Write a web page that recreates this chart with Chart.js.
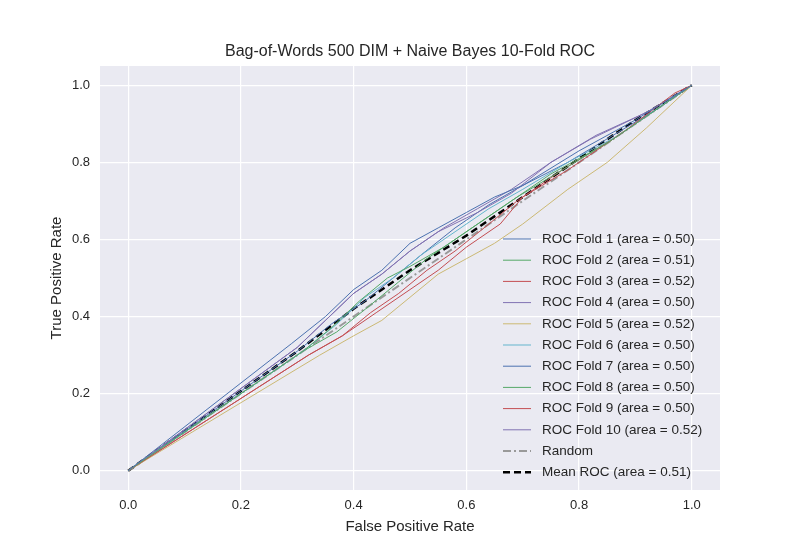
<!DOCTYPE html>
<html>
<head>
<meta charset="utf-8">
<script src="https://cdn.jsdelivr.net/npm/chart.js@4/dist/chart.umd.min.js"></script>
<style>
  body { margin: 0; background: #fff; }
  #wrap { width: 800px; height: 550px; }
</style>
</head>
<body>
<div id="wrap"><canvas id="roc"></canvas></div>
<script>
// Fold curves: [fpr, tpr] pairs
const fold1 = [[0,0],[0.29,0.33],[0.35,0.40],[0.40,0.47],[0.45,0.52],[0.50,0.59],[0.55,0.63],[0.60,0.67],[0.65,0.71],[0.70,0.74],[0.80,0.83],[0.90,0.91],[1,1]];
const fold2 = [[0,0],[0.31,0.31],[0.36,0.37],[0.41,0.44],[0.46,0.50],[0.50,0.53],[0.56,0.58],[0.62,0.64],[0.68,0.70],[0.75,0.77],[0.85,0.85],[0.93,0.93],[1,1]];
const fold3 = [[0,0],[0.32,0.30],[0.38,0.35],[0.44,0.41],[0.50,0.47],[0.55,0.52],[0.60,0.58],[0.66,0.64],[0.70,0.71],[0.78,0.78],[0.88,0.88],[0.97,0.98],[1,1]];
const fold4 = [[0,0],[0.30,0.32],[0.35,0.39],[0.40,0.46],[0.45,0.51],[0.50,0.57],[0.55,0.62],[0.62,0.67],[0.68,0.72],[0.75,0.80],[0.82,0.86],[0.92,0.93],[1,1]];
const fold5 = [[0,0],[0.34,0.30],[0.40,0.35],[0.45,0.39],[0.50,0.45],[0.55,0.51],[0.60,0.55],[0.65,0.59],[0.70,0.64],[0.78,0.73],[0.85,0.80],[0.92,0.89],[1,1]];
const fold6 = [[0,0],[0.31,0.31],[0.37,0.38],[0.42,0.45],[0.47,0.50],[0.52,0.56],[0.58,0.62],[0.64,0.68],[0.70,0.73],[0.78,0.80],[0.87,0.87],[0.95,0.95],[1,1]];
const fold7 = [[0,0],[0.30,0.31],[0.36,0.38],[0.42,0.44],[0.47,0.50],[0.52,0.56],[0.58,0.63],[0.64,0.69],[0.70,0.74],[0.78,0.80],[0.86,0.87],[0.94,0.94],[1,1]];
const fold8 = [[0,0],[0.31,0.31],[0.37,0.36],[0.43,0.43],[0.48,0.49],[0.53,0.55],[0.58,0.60],[0.64,0.66],[0.69,0.71],[0.77,0.78],[0.86,0.86],[0.94,0.94],[1,1]];
const fold9 = [[0,0],[0.32,0.30],[0.38,0.35],[0.43,0.41],[0.48,0.46],[0.53,0.52],[0.58,0.57],[0.64,0.64],[0.69,0.70],[0.77,0.78],[0.87,0.87],[0.95,0.95],[1,1]];
const fold10 = [[0,0],[0.30,0.32],[0.35,0.39],[0.40,0.46],[0.45,0.51],[0.50,0.57],[0.56,0.63],[0.62,0.68],[0.68,0.73],[0.75,0.80],[0.83,0.87],[0.92,0.93],[1,1]];
const randomLine = [[0,0],[1,1]];
const meanRoc = [[0,0],[0.30,0.31],[0.40,0.42],[0.50,0.52],[0.60,0.61],[0.70,0.71],[0.80,0.81],[0.90,0.91],[1,1]];

const foldCurves = [fold1, fold2, fold3, fold4, fold5, fold6, fold7, fold8, fold9, fold10];
const foldAreas = ['0.50', '0.51', '0.52', '0.50', '0.52', '0.50', '0.50', '0.50', '0.50', '0.52'];
const meanArea = '0.51';
const tickValues = [0, 0.2, 0.4, 0.6, 0.8, 1.0];

const deep = ['#4C72B0', '#55A868', '#C44E52', '#8172B2', '#CCB974', '#64B5CD'];
const FONT = '"Liberation Sans", Arial, sans-serif';

const toXY = arr => arr.map(([x, y]) => ({ x, y }));

const datasets = foldCurves.map((c, i) => ({
  label: `ROC Fold ${i + 1} (area = ${foldAreas[i]})`,
  data: toXY(c),
  borderColor: deep[i % deep.length],
  borderWidth: 1,
  pointRadius: 0,
  tension: 0
}));
datasets.push({
  label: 'Random',
  data: toXY(randomLine),
  borderColor: '#999999',
  borderWidth: 2,
  borderDash: [8, 3, 2, 3],
  pointRadius: 0
});
datasets.push({
  label: `Mean ROC (area = ${meanArea})`,
  data: toXY(meanRoc),
  borderColor: '#000000',
  borderWidth: 2.5,
  borderDash: [7, 4],
  pointRadius: 0
});

// Plot background + title + inset legend
const decor = {
  id: 'decor',
  beforeDraw(chart) {
    const { ctx, chartArea: a } = chart;
    ctx.save();
    ctx.fillStyle = '#EAEAF2';
    ctx.fillRect(a.left, a.top, a.right - a.left, a.bottom - a.top);
    ctx.restore();
  },
  afterDraw(chart) {
    const { ctx } = chart;
    ctx.save();
    ctx.fillStyle = '#262626';
    ctx.font = `16px ${FONT}`;
    ctx.textAlign = 'center';
    ctx.textBaseline = 'middle';
    ctx.fillText('Bag-of-Words 500 DIM + Naive Bayes 10-Fold ROC', 410, 52);

    ctx.font = `13.5px ${FONT}`;
    ctx.textAlign = 'left';
    chart.data.datasets.forEach((ds, i) => {
      const y = 239 + i * 21.2;
      ctx.beginPath();
      ctx.strokeStyle = ds.borderColor;
      ctx.lineWidth = ds.borderWidth;
      ctx.setLineDash(ds.borderDash || []);
      ctx.moveTo(503, y);
      ctx.lineTo(531, y);
      ctx.stroke();
      ctx.fillStyle = '#262626';
      ctx.fillText(ds.label, 542, y);
    });
    ctx.restore();
  }
};

new Chart(document.getElementById('roc'), {
  type: 'line',
  data: { datasets },
  plugins: [decor],
  options: {
    responsive: true,
    maintainAspectRatio: false,
    animation: false,
    layout: { padding: { left: 46, right: 80, top: 66, bottom: 12 } },
    plugins: { legend: { display: false }, tooltip: { enabled: false } },
    scales: {
      x: {
        type: 'linear', min: -0.05, max: 1.05,
        afterBuildTicks: s => { s.ticks = tickValues.map(v => ({ value: v })); },
        afterFit: s => { s.height = 48; },
        grid: { color: '#ffffff', lineWidth: 1.2, drawTicks: false },
        border: { display: false },
        ticks: { color: '#262626', padding: 8, font: { family: FONT, size: 13 }, callback: v => v.toFixed(1) },
        title: { display: true, text: 'False Positive Rate', color: '#262626', padding: 2, font: { family: FONT, size: 15 } }
      },
      y: {
        type: 'linear', min: -0.05, max: 1.05,
        afterBuildTicks: s => { s.ticks = tickValues.map(v => ({ value: v })); },
        afterFit: s => { s.width = 54; },
        grid: { color: '#ffffff', lineWidth: 1.2, drawTicks: false },
        border: { display: false },
        ticks: { color: '#262626', padding: 10, font: { family: FONT, size: 13 }, callback: v => v.toFixed(1) },
        title: { display: true, text: 'True Positive Rate', color: '#262626', padding: 2, font: { family: FONT, size: 15 } }
      }
    }
  }
});
</script>
</body>
</html>
